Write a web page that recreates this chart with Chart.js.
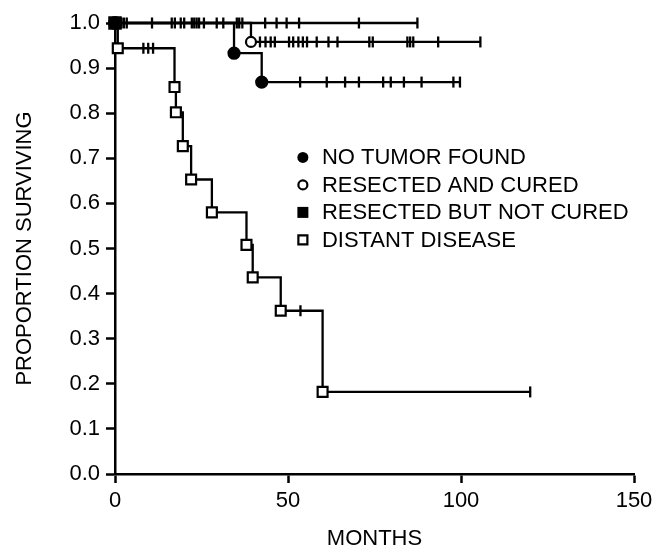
<!DOCTYPE html>
<html>
<head>
<meta charset="utf-8">
<script src="https://cdn.jsdelivr.net/npm/chart.js@4/dist/chart.umd.min.js"></script>
<style>
  html, body { margin: 0; padding: 0; background: #fff; }
  #wrap { width: 663px; height: 549px; }
</style>
</head>
<body>
<div id="wrap"><canvas id="kmChart" width="663" height="549"></canvas></div>
<script>
// survival steps per group (month of event, proportion surviving after it)
const noTumorMonths = [0, 34.4, 42.4, 99.7];
const noTumorSurv = [1.0, 0.933, 0.869, 0.869];
const noTumorCensored = [53.5, 61.2, 66.5, 70.5, 77.5, 79.7, 83.5, 88.6, 97.8, 99.7];

const curedMonths = [0, 39.3, 105.6];
const curedSurv = [1.0, 0.958, 0.958];
const curedCensored = [41.9, 43.5, 45, 46.2, 50.3, 51.5, 53, 54.3, 55.5, 58.3, 61.7, 64.3, 73.5, 74.5, 84.5, 85.3, 86.2, 93.4, 105.6];

const notCuredMonths = [0, 87.4];
const notCuredSurv = [1.0, 1.0];
const notCuredCensored = [1.9, 2.6, 3.4, 10.7, 16.4, 17.3, 19, 20, 22.2, 22.9, 23.6, 24.3, 25.7, 29.4, 31.3, 35.2, 35.9, 36.8, 43.4, 46.7, 49.6, 53.2, 70.5, 87.4];

const distantMonths = [0, 0.8, 17.2, 17.6, 19.6, 22.0, 28.0, 38.0, 39.8, 47.9, 60.0, 120];
const distantSurv = [1.0, 0.944, 0.858, 0.802, 0.727, 0.653, 0.580, 0.508, 0.436, 0.362, 0.182, 0.182];
const distantCensored = [8.2, 9.6, 11.0, 53.6, 120];

const xTicks = [0, 50, 100, 150];
const legendLabels = ["NO TUMOR FOUND", "RESECTED AND CURED", "RESECTED BUT NOT CURED", "DISTANT DISEASE"];

const FONT = "'Liberation Sans', Arial, sans-serif";

function toPoints(months, surv) {
  return months.map((m, i) => ({ x: m, y: surv[i] }));
}

// level of the step curve at a given month
function levelAt(months, surv, t) {
  let s = surv[0];
  for (let i = 0; i < months.length; i++) {
    if (months[i] <= t) s = surv[i];
  }
  return s;
}

function censorPoints(months, surv, censored) {
  return censored.map(t => ({ x: t, y: levelAt(months, surv, t) }));
}

// markers only on death steps, not on the end of the curve
function markerRadius(n, r, firstR) {
  return Array.from({ length: n }, (_, i) => i === n - 1 ? 0 : (i === 0 ? firstR : r));
}

function stepLine(months, surv, style, fill, r, firstR) {
  return {
    data: toPoints(months, surv),
    showLine: true,
    stepped: true,
    clip: false,
    borderColor: "#000",
    borderWidth: 2.3,
    pointStyle: style,
    pointBackgroundColor: fill,
    pointBorderColor: "#000",
    pointBorderWidth: 2.2,
    pointRadius: markerRadius(months.length, r, firstR),
    pointHoverRadius: 0
  };
}

function censorSet(months, surv, censored) {
  return {
    data: censorPoints(months, surv, censored),
    showLine: false,
    clip: false,
    pointStyle: "line",
    pointRotation: 90,
    pointRadius: 5.5,
    pointBorderWidth: 2.3,
    pointBorderColor: "#000",
    pointHoverRadius: 0
  };
}

const legendPlugin = {
  id: "kmLegend",
  afterDraw(chart) {
    const ctx = chart.ctx;
    const xs = chart.scales.x;
    const ys = chart.scales.y;
    const mx = xs.getPixelForValue(54.3);
    const tx = mx + 19;
    const y0 = ys.getPixelForValue(0.702);
    ctx.save();
    ctx.font = "22px " + FONT;
    ctx.textBaseline = "middle";
    ctx.fillStyle = "#000";
    ctx.strokeStyle = "#000";
    ctx.lineWidth = 2.2;
    legendLabels.forEach((label, i) => {
      const y = y0 + i * 27.5;
      ctx.beginPath();
      if (i === 0) {
        ctx.arc(mx, y, 5.5, 0, Math.PI * 2);
        ctx.fill();
      } else if (i === 1) {
        ctx.arc(mx, y, 4.5, 0, Math.PI * 2);
        ctx.stroke();
      } else if (i === 2) {
        ctx.rect(mx - 5.5, y - 5.5, 11, 11);
        ctx.fill();
      } else {
        ctx.rect(mx - 4.5, y - 4.5, 9, 9);
        ctx.stroke();
      }
      ctx.fillText(label, tx, y + 1);
    });
    ctx.restore();
  }
};

const ctx = document.getElementById("kmChart").getContext("2d");
new Chart(ctx, {
  type: "scatter",
  data: {
    datasets: [
      stepLine(noTumorMonths, noTumorSurv, "circle", "#000", 5.5, 6),
      stepLine(curedMonths, curedSurv, "circle", "#fff", 5, 0),
      stepLine(notCuredMonths, notCuredSurv, "rect", "#000", 8, 8),
      stepLine(distantMonths, distantSurv, "rect", "#fff", 7, 0),
      censorSet(noTumorMonths, noTumorSurv, noTumorCensored),
      censorSet(curedMonths, curedSurv, curedCensored),
      censorSet(notCuredMonths, notCuredSurv, notCuredCensored),
      censorSet(distantMonths, distantSurv, distantCensored)
    ]
  },
  options: {
    responsive: false,
    animation: false,
    events: [],
    layout: { padding: { top: 23, right: 29, left: 0, bottom: 0 } },
    plugins: {
      legend: { display: false },
      tooltip: { enabled: false }
    },
    scales: {
      x: {
        type: "linear",
        min: 0,
        max: 150,
        afterBuildTicks: scale => { scale.ticks = xTicks.map(v => ({ value: v })); },
        afterFit: scale => { scale.height = 75; },
        border: { display: true, color: "#000", width: 2.5 },
        grid: { drawOnChartArea: false, drawTicks: true, tickLength: 9, tickWidth: 2.5, tickColor: "#000" },
        ticks: { color: "#000", padding: 5, maxRotation: 0, font: { family: FONT, size: 22 } },
        title: {
          display: true,
          text: "MONTHS",
          color: "#000",
          font: { family: FONT, size: 22, lineHeight: 0.9 },
          padding: { top: 0, bottom: 0 }
        }
      },
      y: {
        min: 0,
        max: 1,
        afterFit: scale => { scale.width = 115; },
        border: { display: true, color: "#000", width: 2.5 },
        grid: { drawOnChartArea: false, drawTicks: true, tickLength: 9, tickWidth: 2.5, tickColor: "#000" },
        ticks: {
          stepSize: 0.1,
          color: "#000",
          padding: 6,
          font: { family: FONT, size: 22 },
          callback: v => v.toFixed(1)
        },
        title: {
          display: true,
          text: "PROPORTION SURVIVING",
          color: "#000",
          font: { family: FONT, size: 22, lineHeight: 1.2 },
          padding: { top: 12, bottom: 0 }
        }
      }
    }
  },
  plugins: [legendPlugin]
});
</script>
</body>
</html>
